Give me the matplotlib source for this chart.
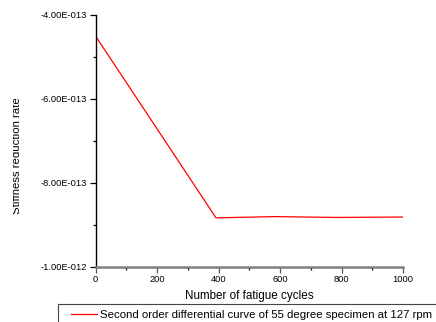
import matplotlib
matplotlib.use("Agg")
import matplotlib.pyplot as plt
from matplotlib.ticker import FuncFormatter, MultipleLocator
from matplotlib.patches import Rectangle

cycles = [0, 392, 585, 780, 1000]
rate = [-4.5e-13, -8.83e-13, -8.80e-13, -8.82e-13, -8.81e-13]
series_label = "Second order differential curve of 55 degree specimen at 127 rpm"

plt.rcParams['font.family'] = ['Liberation Sans', 'DejaVu Sans']

fig = plt.figure(figsize=(4.36, 3.22), dpi=100)
ax = fig.add_axes([95.5 / 436, 1 - 267 / 322, (403 - 95.5) / 436, (267 - 15) / 322])

line, = ax.plot(cycles, rate, color='#ff0000', lw=0.9)

ax.set_xlim(0, 1000)
ax.set_ylim(-1.0e-12, -4.0e-13)
ax.xaxis.set_major_locator(MultipleLocator(200))
ax.xaxis.set_minor_locator(MultipleLocator(100))
ax.yaxis.set_major_locator(MultipleLocator(2e-13))
ax.yaxis.set_minor_locator(MultipleLocator(1e-13))

def sci(v, pos):
    m, e = f"{v:.2E}".split("E")
    sign = "-" if int(e) < 0 else "+"
    return f"{m}E{sign}{abs(int(e)):03d}"

ax.yaxis.set_major_formatter(FuncFormatter(sci))
ax.tick_params(which='both', direction='out', labelsize=6.7, pad=2)
ax.tick_params(which='major', length=4, width=0.9)
ax.tick_params(which='minor', length=2.5, width=0.9)
ax.tick_params(axis='x', colors='#555555', labelcolor='black')

for s in ['top', 'right']:
    ax.spines[s].set_visible(False)
ax.spines['left'].set_linewidth(1.0)
ax.spines['bottom'].set_color('#808080')
ax.spines['bottom'].set_linewidth(1.8)

ax.set_xlabel('Number of fatigue cycles', fontsize=8.4, labelpad=4)
fig.text(17 / 436, 1 - 156 / 322, 'Stiffness reduction rate', rotation=90,
         fontsize=8.2, ha='center', va='center')
fig.patches.append(Rectangle((0, 0), 13 / 436, 1, transform=fig.transFigure,
                             facecolor='white', edgecolor='none', zorder=10))

# legend box, runs off the right and bottom edges like the original
fig.patches.append(Rectangle((58 / 436, -0.1), 400 / 436, 0.1 + 18 / 322,
                             transform=fig.transFigure, facecolor='white',
                             edgecolor='#444444', linewidth=0.8, zorder=1))
leg = fig.legend([line], [series_label], loc='upper left',
                 bbox_to_anchor=(71 / 436, 1 - 310 / 322), fontsize=8.2,
                 frameon=False, handlelength=2.28, handletextpad=0.26,
                 borderpad=0, borderaxespad=0)
leg.set_zorder(5)

fig.savefig('out.png', dpi=100)
